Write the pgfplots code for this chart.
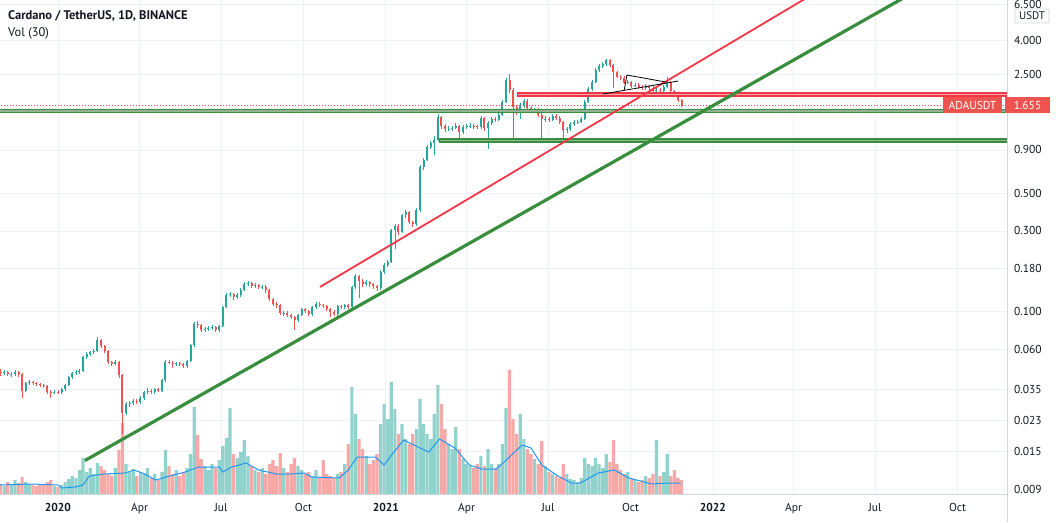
\documentclass[border=0pt]{standalone}
\usepackage{fontspec}
\setmainfont{PT Sans}
\usepackage{pgfplots}
\pgfplotsset{compat=1.18}
\usepackage{pgfplotstable}
\definecolor{txt}{RGB}{19,23,34}
\definecolor{gridc}{RGB}{238,241,248}
\definecolor{sepc}{RGB}{210,214,222}
\definecolor{upc}{RGB}{38,166,154}
\definecolor{dnc}{RGB}{239,83,80}
\definecolor{volup}{RGB}{146,210,204}
\definecolor{voldn}{RGB}{247,169,167}
\definecolor{tlgreen}{RGB}{56,142,60}
\definecolor{tlred}{RGB}{242,54,69}
\definecolor{mablue}{RGB}{33,150,243}
\definecolor{bandg}{RGB}{150,178,150}
\definecolor{bandr}{RGB}{246,168,168}

\pgfplotstableread{
x o h l c v
-64 0.0445 0.0458 0.0421 0.0434 10
-60 0.0434 0.0452 0.0424 0.0440 8
-56 0.0440 0.0451 0.0418 0.0428 12
-52 0.0428 0.0443 0.0416 0.0431 9
-48 0.0431 0.0452 0.0420 0.0440 14
-44 0.0440 0.0448 0.0415 0.0430 11
-40 0.0430 0.0436 0.0313 0.0344 17
-36 0.0344 0.0388 0.0336 0.0379 12
-32 0.0379 0.0396 0.0370 0.0384 10
-28 0.0384 0.0392 0.0370 0.0379 9
-24 0.0379 0.0388 0.0364 0.0374 8
-20 0.0374 0.0381 0.0360 0.0369 10
-16 0.0369 0.0377 0.0355 0.0364 9
-12 0.0364 0.0370 0.0330 0.0339 12
-8 0.0339 0.0346 0.0309 0.0335 14
-4 0.0335 0.0347 0.0328 0.0339 8
0 0.0339 0.0345 0.0327 0.0335 7
4 0.0335 0.0356 0.0329 0.0349 9
8 0.0349 0.0376 0.0343 0.0369 12
12 0.0369 0.0420 0.0364 0.0411 15
16 0.0411 0.0445 0.0405 0.0434 18
20 0.0434 0.0452 0.0426 0.0440 16
24 0.0440 0.0460 0.0432 0.0446 24
28 0.0446 0.0552 0.0440 0.0539 36
32 0.0539 0.0578 0.0528 0.0562 22
36 0.0562 0.0592 0.0550 0.0577 26
40 0.0577 0.0603 0.0566 0.0585 20
44 0.0585 0.0716 0.0578 0.0679 31
48 0.0679 0.0690 0.0612 0.0626 28
52 0.0626 0.0640 0.0574 0.0585 24
56 0.0585 0.0596 0.0495 0.0504 20
60 0.0504 0.0515 0.0480 0.0491 18
64 0.0491 0.0520 0.0484 0.0504 26
68 0.0504 0.0512 0.0410 0.0422 44
72 0.0422 0.0430 0.0192 0.0255 71
76 0.0255 0.0296 0.0246 0.0285 30
80 0.0285 0.0300 0.0276 0.0289 22
84 0.0289 0.0306 0.0282 0.0297 25
88 0.0297 0.0305 0.0286 0.0293 18
92 0.0293 0.0318 0.0287 0.0309 22
96 0.0309 0.0344 0.0303 0.0335 20
100 0.0335 0.0355 0.0328 0.0344 26
104 0.0344 0.0352 0.0327 0.0335 16
108 0.0335 0.0358 0.0329 0.0349 20
112 0.0349 0.0357 0.0337 0.0344 14
116 0.0344 0.0405 0.0338 0.0395 22
120 0.0395 0.0518 0.0388 0.0504 44
124 0.0504 0.0520 0.0490 0.0500 28
128 0.0500 0.0512 0.0470 0.0491 20
132 0.0491 0.0510 0.0482 0.0497 24
136 0.0497 0.0508 0.0480 0.0491 18
140 0.0491 0.0500 0.0468 0.0478 22
144 0.0478 0.0524 0.0470 0.0511 26
148 0.0511 0.0650 0.0505 0.0635 40
152 0.0635 0.0870 0.0625 0.0844 87
156 0.0844 0.0880 0.0800 0.0832 59
160 0.0832 0.0850 0.0760 0.0778 35
164 0.0778 0.0812 0.0762 0.0789 28
168 0.0789 0.0822 0.0775 0.0800 24
172 0.0800 0.0835 0.0785 0.0810 30
176 0.0810 0.0825 0.0760 0.0778 26
180 0.0778 0.0842 0.0765 0.0821 34
184 0.0821 0.1090 0.0812 0.1064 48
188 0.1064 0.1290 0.1050 0.1252 56
192 0.1252 0.1310 0.1220 0.1269 86
196 0.1269 0.1300 0.1180 0.1219 40
200 0.1219 0.1290 0.1190 0.1252 36
204 0.1252 0.1380 0.1230 0.1340 42
208 0.1340 0.1500 0.1320 0.1454 54
212 0.1454 0.1520 0.1420 0.1474 38
216 0.1474 0.1510 0.1390 0.1415 28
220 0.1415 0.1480 0.1390 0.1434 24
224 0.1434 0.1470 0.1360 0.1396 22
228 0.1396 0.1450 0.1360 0.1405 26
232 0.1405 0.1440 0.1300 0.1340 20
236 0.1340 0.1370 0.1160 0.1186 30
240 0.1186 0.1210 0.1080 0.1108 34
244 0.1108 0.1140 0.1060 0.1093 28
248 0.1093 0.1120 0.0955 0.0980 41
252 0.0980 0.1010 0.0950 0.0985 26
256 0.0985 0.1010 0.0930 0.0954 22
260 0.0954 0.0975 0.0905 0.0929 30
264 0.0929 0.0950 0.0778 0.0891 36
268 0.0891 0.0975 0.0870 0.0954 28
272 0.0954 0.1060 0.0940 0.1035 24
276 0.1035 0.1060 0.0985 0.1007 20
280 0.1007 0.1030 0.0945 0.0967 22
284 0.0967 0.1090 0.0950 0.1064 18
288 0.1064 0.1140 0.1040 0.1108 24
292 0.1108 0.1140 0.1070 0.1093 16
296 0.1093 0.1120 0.1050 0.1078 34
300 0.1078 0.1100 0.1010 0.1035 20
304 0.1035 0.1060 0.0929 0.0994 18
308 0.0994 0.1020 0.0945 0.0967 16
312 0.0967 0.1100 0.0950 0.1078 20
316 0.1078 0.1100 0.1040 0.1064 22
320 0.1064 0.1120 0.1040 0.1093 30
324 0.1093 0.1120 0.1040 0.1064 50
328 0.1064 0.1430 0.1050 0.1396 107
332 0.1396 0.1680 0.1370 0.1621 80
336 0.1621 0.1660 0.1200 0.1514 55
340 0.1514 0.1560 0.1410 0.1454 45
344 0.1454 0.1540 0.1420 0.1494 38
348 0.1494 0.1530 0.1410 0.1454 30
352 0.1454 0.1490 0.1370 0.1415 34
356 0.1415 0.1450 0.1330 0.1377 40
360 0.1377 0.1760 0.1340 0.1711 70
364 0.1711 0.1940 0.1680 0.1882 90
368 0.1882 0.2030 0.1830 0.1960 75
372 0.1960 0.3100 0.1930 0.3027 112
376 0.3027 0.3300 0.2350 0.3197 85
380 0.3197 0.3280 0.2850 0.2946 60
384 0.2946 0.3800 0.2900 0.3711 70
388 0.3711 0.3980 0.3600 0.3866 55
392 0.3866 0.3950 0.3280 0.3375 50
396 0.3375 0.3450 0.3150 0.3285 60
400 0.3285 0.4080 0.3200 0.3972 65
404 0.3972 0.7300 0.3900 0.7125 95
408 0.7125 0.8050 0.6900 0.7835 70
412 0.7835 0.9600 0.7700 0.9350 60
416 0.9350 1.0200 0.9100 0.9890 55
420 0.9890 1.0900 0.8390 1.0280 80
424 1.0280 1.4600 1.0100 1.4050 109
428 1.4050 1.4300 1.2000 1.2440 90
432 1.2440 1.2800 1.1500 1.1940 65
436 1.1940 1.2400 1.1600 1.2000 50
440 1.2000 1.2500 1.1700 1.2110 45
444 1.2110 1.2900 1.1900 1.2440 67
448 1.2440 1.2700 1.0580 1.1460 45
452 1.1460 1.2600 1.1200 1.2280 35
456 1.2280 1.2800 1.2000 1.2440 30
460 1.2440 1.2900 1.2100 1.2500 28
464 1.2500 1.2800 1.2000 1.2400 26
468 1.2400 1.2700 1.1900 1.2280 30
472 1.2280 1.4200 1.2000 1.3860 38
476 1.3860 1.4000 1.1700 1.2110 28
480 1.2110 1.3300 0.9100 1.2960 45
484 1.2960 1.4000 1.2700 1.3670 30
488 1.3670 1.4000 1.3200 1.3600 26
492 1.3600 1.4800 1.3300 1.4440 30
496 1.4440 1.7700 1.4200 1.7230 50
500 1.7230 2.3900 1.7000 2.3230 86
504 2.3230 2.5200 1.9500 2.0280 124
508 2.0280 2.0800 1.0580 1.6100 75
512 1.6100 1.6600 1.4500 1.5240 60
516 1.5240 1.7000 1.3670 1.6540 80
520 1.6540 1.8000 1.6000 1.7460 55
524 1.7460 1.7900 1.5400 1.5870 45
528 1.5870 1.6300 1.4800 1.5240 40
532 1.5240 1.5900 1.4800 1.5400 35
536 1.5400 1.5800 1.4000 1.4440 30
540 1.4440 1.4800 1.0000 1.3670 53
544 1.3670 1.4200 1.3200 1.3750 28
548 1.3750 1.4100 1.3100 1.3600 22
552 1.3600 1.4600 1.3300 1.4250 20
556 1.4250 1.4600 1.3500 1.3860 18
560 1.3860 1.4200 1.2800 1.3130 16
564 1.3130 1.3400 1.0280 1.1780 30
568 1.1780 1.2300 1.1400 1.1940 20
572 1.1940 1.3100 1.1700 1.2780 15
576 1.2780 1.3500 1.2500 1.3130 14
580 1.3130 1.3600 1.2800 1.3200 12
584 1.3200 1.4000 1.2900 1.3670 16
588 1.3670 1.7700 1.3500 1.7230 36
592 1.7230 2.1100 1.7000 2.0560 30
596 2.0560 2.3300 2.0000 2.2610 28
600 2.2610 2.7400 2.2200 2.6610 36
604 2.6610 2.9000 2.6000 2.8100 30
608 2.8100 2.9700 2.7500 2.8880 26
612 2.8880 3.1000 2.8300 3.0480 40
616 3.0480 3.0900 2.7800 2.8480 32
620 2.8480 2.8800 2.0800 2.5900 54
624 2.5900 2.6400 2.3800 2.4340 30
628 2.4340 2.5000 2.3400 2.4020 24
632 2.4020 2.4600 2.1900 2.2430 20
636 2.2430 2.3300 2.2000 2.2610 22
640 2.2610 2.3100 2.1000 2.1420 16
644 2.1420 2.2300 2.1100 2.1710 14
648 2.1710 2.2200 2.0700 2.1140 12
652 2.1140 2.1600 2.0400 2.0850 14
656 2.0850 2.1900 2.0400 2.1420 18
660 2.1420 2.1800 2.0300 2.0850 16
664 2.0850 2.1300 1.9600 2.0010 20
668 2.0010 2.0900 1.9500 2.0280 54
672 2.0280 2.0800 1.9500 2.0010 18
676 2.0010 2.1800 1.9700 2.1140 22
680 2.1140 2.4200 2.0800 2.2610 40
684 2.2610 2.3000 1.9600 2.0010 18
688 2.0010 2.0400 1.8500 1.8970 24
692 1.8970 1.9300 1.7300 1.7700 16
696 1.7700 1.8000 1.6200 1.6550 14
}\ohlc

\pgfplotsset{
  pane/.style={at={(0pt,28pt)}, anchor=south west, width=1007pt, height=494pt,
    scale only axis, xmin=-64.7, xmax=1059.2, axis line style={draw=none},
    major tick length=0pt},
  candle/.style 2 args={forget plot, draw=none, mark=none,
    error bars/y dir=both, error bars/y explicit, error bars/error mark=none,
    error bars/error bar style={line width=#1, draw=#2}},
}

\begin{document}
\begin{tikzpicture}
\useasboundingbox (0pt,0pt) rectangle (1059pt,522pt);

% ---------- grid and scales ----------
\begin{axis}[pane,
  ymode=log, ymin=0.00845, ymax=6.888,
  xtick={0,91,182,274,366,456,547,639,731,821,912,1004},
  xticklabels={\textbf{2020},Apr,Jul,Oct,\textbf{2021},Apr,Jul,Oct,\textbf{2022},Apr,Jul,Oct},
  ytick={0.009,0.015,0.023,0.035,0.06,0.1,0.18,0.3,0.5,0.9,1.6,2.5,4,6.5},
  yticklabels={0.009,0.015,0.023,0.035,0.060,0.100,0.180,0.300,0.500,0.900,{},2.500,4.000,6.500},
  yticklabel pos=right,
  grid=major, major grid style={draw=gridc, line width=0.8pt},
  tick label style={font=\fontsize{11.5}{13}\selectfont, text=txt},
  xticklabel style={anchor=base, inner sep=0pt, yshift=-17pt},
  yticklabel style={anchor=west, inner sep=0pt, xshift=7pt},
]
\addplot[draw=none, mark=none] coordinates {(0,0.1)(10,0.1)};
\end{axis}

% ---------- volume pane ----------
\begin{axis}[pane, ymin=0, ymax=494, xtick=\empty, ytick=\empty]
\addplot[ybar, bar width=3.2pt, bar shift=0pt, fill=volup, draw=none,
  restrict expr to domain={\thisrow{c}-\thisrow{o}}{0:100}] table[x=x,y=v]{\ohlc};
\addplot[ybar, bar width=3.2pt, bar shift=0pt, fill=voldn, draw=none,
  restrict expr to domain={\thisrow{c}-\thisrow{o}}{-100:-0.000001}] table[x=x,y=v]{\ohlc};
\addplot[sharp plot, mablue, line width=1pt, mark=none] coordinates {
(-65,9)(-31,10)(0,9)(4.5,6)(19,7)(28,9)(35,18)(52,20)(75,21)(85,24)(97,20)(109,14)
(125,18)(142,22)(157,27)(180,27)(184,22)(194,27)(210,31)(224,24)(244,20)(259,20)
(275,21)(283,17)(314,16)(324,24)(334,37)(354,37)(364,29)(374,41)(386,54)(404,46)
(414,42)(426,55)(443,46)(459,29)(473,25)(489,25)(498,32)(518,49)(528,46)(540,29)
(558,18)(573,11)(583,11)(603,21)(621,24)(637,16)(663,10)(681,11)(695,11)};
\end{axis}

% ---------- price pane ----------
\begin{axis}[pane, ymode=log, ymin=0.00845, ymax=6.888, xtick=\empty, ytick=\empty]
% wicks
\addplot[candle={0.7pt}{upc}, restrict expr to domain={\thisrow{c}-\thisrow{o}}{0:100}]
  table[x=x, y=c, y error plus expr=\thisrow{h}-\thisrow{c}, y error minus expr=\thisrow{c}-\thisrow{l}] {\ohlc};
\addplot[candle={0.7pt}{dnc}, restrict expr to domain={\thisrow{c}-\thisrow{o}}{-100:-0.000001}]
  table[x=x, y=c, y error plus expr=\thisrow{h}-\thisrow{c}, y error minus expr=\thisrow{c}-\thisrow{l}] {\ohlc};
% bodies
\addplot[candle={2pt}{upc}, restrict expr to domain={\thisrow{c}-\thisrow{o}}{0:100}]
  table[x=x, y=c, y error plus expr=0, y error minus expr=\thisrow{c}-\thisrow{o}] {\ohlc};
\addplot[candle={2pt}{dnc}, restrict expr to domain={\thisrow{c}-\thisrow{o}}{-100:-0.000001}]
  table[x=x, y=c, y error plus expr=\thisrow{o}-\thisrow{c}, y error minus expr=0] {\ohlc};

% current price dotted line
\addplot[tlred, line width=0.8pt, dash pattern=on 1pt off 2pt] coordinates {(-70,1.655)(1070,1.655)};
% horizontal zones
\addplot[draw=tlgreen, line width=1.6pt, fill=bandg] coordinates {(-70,1.494)(1070,1.494)(1070,1.556)(-70,1.556)} -- cycle;
\addplot[draw=tlgreen, line width=1.6pt, fill=bandg] coordinates {(426,1.000)(1070,1.000)(1070,1.042)(426,1.042)} -- cycle;
\addplot[draw=tlred, line width=1.6pt, fill=bandr] coordinates {(513,1.869)(1070,1.869)(1070,1.947)(513,1.947)} -- cycle;
% trend lines
\addplot[tlgreen, line width=3.2pt] coordinates {(30.1,0.01331)(960,7.92)};
\addplot[tlred, line width=1.8pt] coordinates {(292.4,0.1402)(860,8.46)};
% triangle
\addplot[black, line width=0.8pt] coordinates {(632,2.030)(635,2.488)(678.6,2.262)};
\addplot[black, line width=0.8pt] coordinates {(608,1.922)(692,2.293)};
\end{axis}

% ---------- frame and labels ----------
\draw[sepc, line width=0.8pt] (1007pt,0pt) -- (1007pt,522pt);
\draw[sepc, line width=0.8pt] (0pt,28pt) -- (1007pt,28pt);

\fill[dnc] (943pt,409pt) rectangle (1002pt,425pt);
\node[text=white, inner sep=0pt, font=\fontsize{11.5}{13}\selectfont] at (972.5pt,417pt) {ADAUSDT};
\fill[dnc] (1005pt,409pt) rectangle (1050pt,425pt);
\node[text=white, inner sep=0pt, font=\fontsize{11.5}{13}\selectfont] at (1027.5pt,417pt) {1.655};

\draw[sepc, fill=white, rounded corners=2pt, line width=0.8pt] (1015pt,499pt) rectangle (1049pt,513pt);
\node[text=txt, inner sep=0pt, font=\fontsize{11}{13}\selectfont] at (1032pt,506pt) {USDT};

\node[anchor=base west, inner sep=0pt, text=txt, font=\bfseries\fontsize{12.5}{14}\selectfont] at (8pt,502pt) {Cardano / TetherUS, 1D, BINANCE};
\node[anchor=base west, inner sep=0pt, text=txt, font=\fontsize{12.5}{14}\selectfont] at (8pt,485pt) {Vol (30)};
\end{tikzpicture}
\end{document}
